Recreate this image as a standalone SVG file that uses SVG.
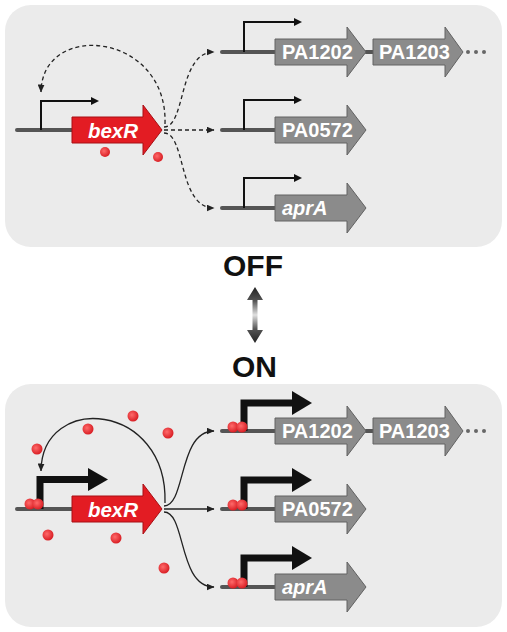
<svg xmlns="http://www.w3.org/2000/svg" width="507" height="632" viewBox="0 0 507 632">
<style>
.panel{fill:#ebebeb;}
.dna{stroke:#555;stroke-width:4;stroke-linecap:round;fill:none;}
.gene{fill:#8b8b8b;stroke:#626262;stroke-width:1;}
.bexr{fill:#e31c23;stroke:#a80f14;stroke-width:1;}
.gtxt{font-family:"Liberation Sans",Arial,sans-serif;font-weight:bold;font-size:20px;fill:#fff;}
.it{font-style:italic;}
.prom{stroke:#111;stroke-width:2;fill:none;}
.promh{fill:#111;}
.promT{stroke:#111;stroke-width:7;fill:none;stroke-linejoin:miter;}
.dash{stroke:#222;stroke-width:1.3;fill:none;stroke-dasharray:4 3;marker-end:url(#ah);}
.solid{stroke:#222;stroke-width:1.3;fill:none;marker-end:url(#ah);}
.dot{fill:url(#rd);}
.ell{fill:#666;}
.state{font-family:"Liberation Sans",Arial,sans-serif;font-weight:bold;font-size:30px;fill:#111;text-anchor:middle;}
</style>
<defs>
<marker id="ah" markerUnits="userSpaceOnUse" markerWidth="8" markerHeight="7" refX="7.5" refY="3.5" orient="auto">
<path d="M0,0 L8,3.5 L0,7 z" fill="#222"/>
</marker>
<radialGradient id="rd" cx="0.4" cy="0.4" r="0.6">
<stop offset="0" stop-color="#ff6a6a"/>
<stop offset="1" stop-color="#d91f25"/>
</radialGradient>
<linearGradient id="dbl" x1="0" y1="0" x2="0" y2="1">
<stop offset="0" stop-color="#222"/>
<stop offset="0.25" stop-color="#555"/>
<stop offset="0.5" stop-color="#e0e0e0"/>
<stop offset="0.75" stop-color="#555"/>
<stop offset="1" stop-color="#222"/>
</linearGradient>
</defs>
<rect width="507" height="632" fill="#fff"/>

<!-- OFF panel -->
<g id="panel-off">
<rect class="panel" x="5" y="5" width="497" height="242" rx="26"/>
</g>
<g id="off-bexR">
<line class="dna" x1="17" y1="130" x2="72" y2="130"/>
<path class="prom" d="M41 130 V101 H92"/>
<polygon class="promh" points="91,97 99,101 91,105"/>
<path class="bexr" d="M72 117 H143 V105 L162 130 L143 155 V143 H72 Z"/>
<text class="gtxt it" x="113" y="138" text-anchor="middle" style="font-size:20.5px">bexR</text>
<circle class="dot" cx="105" cy="152" r="5"/>
<circle class="dot" cx="158" cy="157" r="5"/>
</g>
<g id="off-PA1202">
<line class="dna" x1="222" y1="52" x2="275" y2="52"/>
<line class="dna" x1="366" y1="52" x2="373" y2="52"/>
<path class="prom" d="M244 52 V22 H295"/>
<polygon class="promh" points="294,18 302,22 294,26"/>
<path class="gene" d="M275 39 H347 V27 L366 52 L347 77 V65 H275 Z"/>
<text class="gtxt" x="282" y="59">PA1202</text>
</g>
<g id="off-PA1203">
<path class="gene" d="M373 39 H445 V27 L463 52 L445 77 V65 H373 Z"/>
<text class="gtxt" x="379" y="59">PA1203</text>
<circle class="ell" cx="468" cy="52" r="2"/>
<circle class="ell" cx="476" cy="52" r="2"/>
<circle class="ell" cx="484" cy="52" r="2"/>
</g>
<g id="off-PA0572">
<line class="dna" x1="222" y1="130" x2="275" y2="130"/>
<path class="prom" d="M244 130 V100 H295"/>
<polygon class="promh" points="294,96 302,100 294,104"/>
<path class="gene" d="M275 117 H347 V105 L366 130 L347 155 V143 H275 Z"/>
<text class="gtxt" x="282" y="137">PA0572</text>
</g>
<g id="off-aprA">
<line class="dna" x1="222" y1="208" x2="275" y2="208"/>
<path class="prom" d="M244 208 V178 H295"/>
<polygon class="promh" points="294,174 302,178 294,182"/>
<path class="gene" d="M275 195 H347 V183 L366 208 L347 233 V221 H275 Z"/>
<text class="gtxt it" x="282" y="215">aprA</text>
</g>
<g id="off-connectors">
<path class="dash" d="M165 124 C168 32, 42 20, 41 92"/>
<path class="dash" d="M164 127 C186 127, 178 52, 214 52"/>
<path class="dash" d="M164 130 H214"/>
<path class="dash" d="M164 133 C186 133, 178 208, 214 208"/>
</g>

<!-- switch -->
<g id="switch">
<text class="state" x="253" y="276">OFF</text>
<polygon points="255,287 263,300 257.5,300 257.5,330 263,330 255,343 247,330 252.5,330 252.5,300 247,300" fill="url(#dbl)"/>
<text class="state" x="254.5" y="377">ON</text>
</g>

<!-- ON panel -->
<g id="panel-on">
<rect class="panel" x="5" y="384" width="497" height="243" rx="26"/>
</g>
<g id="on-bexR">
<line class="dna" x1="17" y1="509" x2="72" y2="509"/>
<path class="promT" d="M40 509 V479.5 H90"/>
<polygon class="promh" points="88,468 108,479.5 88,491"/>
<circle class="dot" cx="30" cy="504" r="5.5"/>
<circle class="dot" cx="38" cy="504" r="5.5"/>
<path class="bexr" d="M72 496 H143 V484 L162 509 L143 534 V522 H72 Z"/>
<text class="gtxt it" x="113" y="517" text-anchor="middle" style="font-size:20.5px">bexR</text>
</g>
<g id="on-PA1202">
<line class="dna" x1="222" y1="431" x2="275" y2="431"/>
<line class="dna" x1="366" y1="431" x2="373" y2="431"/>
<path class="promT" d="M244 431 V403 H294"/>
<polygon class="promh" points="292,391 312,403 292,415"/>
<circle class="dot" cx="233" cy="427" r="5.5"/>
<circle class="dot" cx="242" cy="427" r="5.5"/>
<path class="gene" d="M275 418 H347 V406 L366 431 L347 456 V444 H275 Z"/>
<text class="gtxt" x="282" y="438">PA1202</text>
</g>
<g id="on-PA1203">
<path class="gene" d="M373 418 H445 V406 L463 431 L445 456 V444 H373 Z"/>
<text class="gtxt" x="379" y="438">PA1203</text>
<circle class="ell" cx="468" cy="431" r="2"/>
<circle class="ell" cx="476" cy="431" r="2"/>
<circle class="ell" cx="484" cy="431" r="2"/>
</g>
<g id="on-PA0572">
<line class="dna" x1="222" y1="509" x2="275" y2="509"/>
<path class="promT" d="M244 509 V480 H294"/>
<polygon class="promh" points="292,468 312,480 292,492"/>
<circle class="dot" cx="233" cy="505" r="5.5"/>
<circle class="dot" cx="242" cy="505" r="5.5"/>
<path class="gene" d="M275 496 H347 V484 L366 509 L347 534 V522 H275 Z"/>
<text class="gtxt" x="282" y="516">PA0572</text>
</g>
<g id="on-aprA">
<line class="dna" x1="222" y1="587" x2="275" y2="587"/>
<path class="promT" d="M244 587 V558 H294"/>
<polygon class="promh" points="292,546 312,558 292,570"/>
<circle class="dot" cx="233" cy="583" r="5.5"/>
<circle class="dot" cx="242" cy="583" r="5.5"/>
<path class="gene" d="M275 574 H347 V562 L366 587 L347 612 V600 H275 Z"/>
<text class="gtxt it" x="282" y="594">aprA</text>
</g>
<g id="on-free-bexR">
<circle class="dot" cx="37" cy="449" r="5.5"/>
<circle class="dot" cx="88" cy="429" r="5.5"/>
<circle class="dot" cx="133" cy="416" r="5.5"/>
<circle class="dot" cx="168" cy="433" r="5.5"/>
<circle class="dot" cx="48" cy="535" r="5.5"/>
<circle class="dot" cx="116" cy="538" r="5.5"/>
<circle class="dot" cx="164" cy="568" r="5.5"/>
</g>
<g id="on-connectors">
<path class="solid" d="M165 503 C168 402, 42 392, 41 471"/>
<path class="solid" d="M164 506 C186 506, 178 431, 214 431"/>
<path class="solid" d="M164 509 H214"/>
<path class="solid" d="M164 512 C186 512, 178 587, 214 587"/>
</g>
</svg>
